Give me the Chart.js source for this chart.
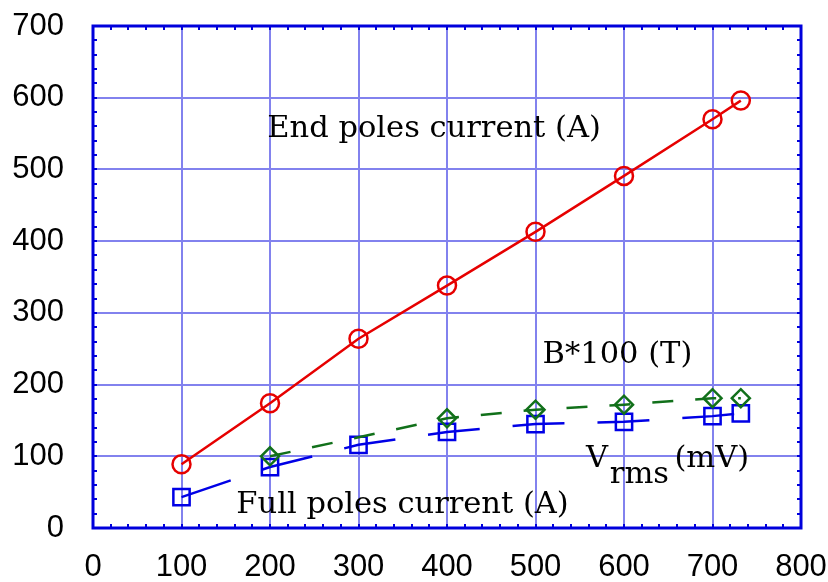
<!DOCTYPE html>
<html>
<head>
<meta charset="utf-8">
<script src="https://cdn.jsdelivr.net/npm/chart.js@4/dist/chart.umd.min.js"></script>
<style>
  html, body { margin: 0; padding: 0; background: #fff; }
</style>
</head>
<body>
<canvas id="chart" width="828" height="582"></canvas>
<script>
// x readings shared by the red and blue curves
const xValues = [100, 200, 300, 400, 500, 600, 700, 732];
const endPolesCurrent = [89, 174, 264, 338, 413, 491, 570, 596];
const vrms = [43, 85, 116, 134, 145, 148, 156, 160];
// B*100 has no reading at 100 and 300
const bFieldX = [200, 400, 500, 600, 700, 732];
const bField = [100, 153, 165, 172, 181, 181];

const xTicks = [0, 100, 200, 300, 400, 500, 600, 700, 800];
const yTicks = [0, 100, 200, 300, 400, 500, 600, 700];

// text written inside the plot, anchored in data units (left edge, baseline)
const notes = [
  { text: 'End poles current (A)', x: 197, y: 545 },
  { text: 'B*100 (T)', x: 508, y: 230 },
  { text: 'V', x: 557, y: 85 },
  { text: 'rms', x: 584, y: 63 },
  { text: '(mV)', x: 657, y: 85 },
  { text: 'Full poles current (A)', x: 162, y: 21 },
];

const toPoints = (xs, ys) => xs.map((x, i) => ({ x: x, y: ys[i] }));

const frameBlue = '#0000dc';
const gridBlue = '#8282ee';

// blue frame with small inward ticks every 20 units, then the labels
const framePlugin = {
  id: 'frame',
  afterDatasetsDraw(chart) {
    const ctx = chart.ctx;
    const a = chart.chartArea;
    const xs = chart.scales.x, ys = chart.scales.y;
    ctx.save();

    ctx.fillStyle = '#000';
    ctx.font = '30.5px "DejaVu Serif"';
    ctx.textBaseline = 'alphabetic';
    ctx.textAlign = 'left';
    notes.forEach(n => {
      ctx.fillText(n.text, xs.getPixelForValue(n.x), ys.getPixelForValue(n.y));
    });

    ctx.strokeStyle = frameBlue;
    ctx.lineWidth = 2;
    for (let v = 20; v < 800; v += 20) {
      const px = Math.round(xs.getPixelForValue(v));
      ctx.beginPath();
      ctx.moveTo(px, a.bottom); ctx.lineTo(px, a.bottom - 4);
      ctx.moveTo(px, a.top); ctx.lineTo(px, a.top + 4);
      ctx.stroke();
    }
    for (let v = 20; v < 700; v += 20) {
      const py = Math.round(ys.getPixelForValue(v));
      ctx.beginPath();
      ctx.moveTo(a.left, py); ctx.lineTo(a.left + 4, py);
      ctx.moveTo(a.right, py); ctx.lineTo(a.right - 4, py);
      ctx.stroke();
    }
    ctx.lineWidth = 3;
    ctx.strokeRect(a.left, a.top, a.right - a.left, a.bottom - a.top);
    ctx.restore();
  }
};

const tickFont = { family: '"Liberation Sans", Arial, sans-serif', size: 31 };

// fixed axis boxes, no extra room reserved for the end labels
const fitX = scale => {
  scale.height = 54;
  scale.paddingLeft = 0;
  scale.paddingRight = 0;
};
const fitY = scale => {
  scale.width = 93;
  scale.paddingTop = 0;
  scale.paddingBottom = 0;
};

new Chart(document.getElementById('chart'), {
  type: 'scatter',
  data: {
    datasets: [
      {
        label: 'End poles current (A)',
        data: toPoints(xValues, endPolesCurrent),
        showLine: true,
        borderColor: '#e60000',
        borderWidth: 2.5,
        pointStyle: 'circle',
        pointRadius: 9,
        pointBorderWidth: 2.5,
        pointBorderColor: '#e60000',
        pointBackgroundColor: 'rgba(0,0,0,0)',
      },
      {
        label: 'B*100 (T)',
        data: toPoints(bFieldX, bField),
        showLine: true,
        borderColor: '#11701a',
        borderWidth: 2.5,
        borderDash: [21, 22],
        pointStyle: 'rectRot',
        pointRadius: 9,
        pointBorderWidth: 2.5,
        pointBorderColor: '#11701a',
        pointBackgroundColor: 'rgba(0,0,0,0)',
      },
      {
        label: 'Vrms (mV)',
        data: toPoints(xValues, vrms),
        showLine: true,
        borderColor: '#0000e6',
        borderWidth: 2.5,
        borderDash: [52, 33],
        pointStyle: 'rect',
        pointRadius: 11.5,
        pointBorderWidth: 2.5,
        pointBorderColor: '#0000e6',
        pointBackgroundColor: 'rgba(0,0,0,0)',
      },
    ]
  },
  options: {
    responsive: false,
    devicePixelRatio: 1,
    animation: false,
    layout: { autoPadding: false, padding: { top: 26, right: 27, left: 0, bottom: 0 } },
    plugins: {
      legend: { display: false },
      tooltip: { enabled: false },
    },
    scales: {
      x: {
        type: 'linear',
        min: 0,
        max: 800,
        afterFit: fitX,
        afterBuildTicks: scale => { scale.ticks = xTicks.map(v => ({ value: v })); },
        grid: { color: gridBlue, lineWidth: 2, drawTicks: false },
        border: { display: false },
        ticks: { padding: 21, color: '#000', font: tickFont },
      },
      y: {
        type: 'linear',
        min: 0,
        max: 700,
        afterFit: fitY,
        afterBuildTicks: scale => { scale.ticks = yTicks.map(v => ({ value: v })); },
        grid: { color: gridBlue, lineWidth: 2, drawTicks: false },
        border: { display: false },
        ticks: { padding: 29, color: '#000', font: tickFont },
      },
    },
  },
  plugins: [framePlugin],
});
</script>
</body>
</html>
